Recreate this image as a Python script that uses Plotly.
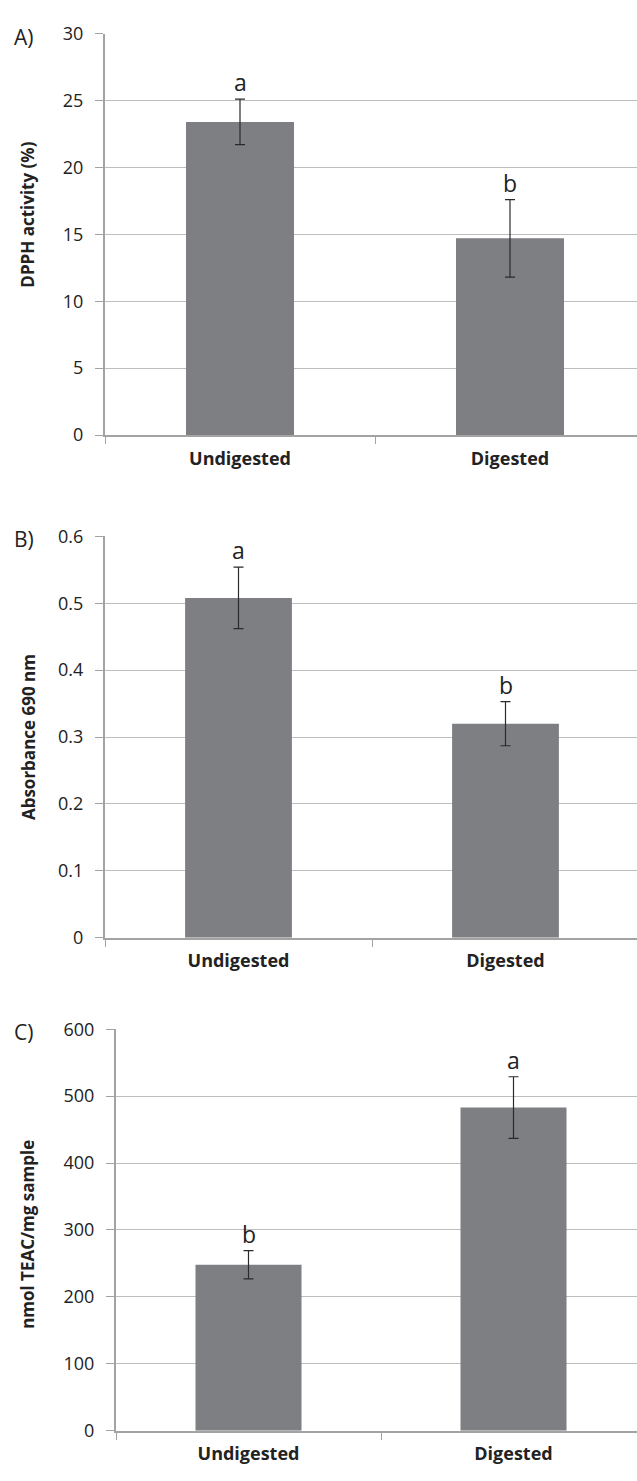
import plotly.graph_objects as go

# Samples on the x axis
categories = ["Undigested", "Digested"]

# A) DPPH radical scavenging
dpph_mean = [23.4, 14.7]
dpph_sd = [1.7, 2.9]
dpph_letters = ["a", "b"]

# B) Reducing power
abs_mean = [0.508, 0.320]
abs_sd = [0.046, 0.033]
abs_letters = ["a", "b"]

# C) ABTS / TEAC
teac_mean = [248, 483]
teac_sd = [21, 46]
teac_letters = ["b", "a"]

panel_tags = ["A)", "B)", "C)"]
y_titles = ["DPPH activity (%)", "Absorbance 690 nm", "nmol TEAC/mg sample"]
y_ranges = [[0, 30], [0, 0.6], [0, 600]]
y_dticks = [5, 0.1, 100]

W, H = 637, 1481
BAR = "#7e7f83"
GRID = "#bdbdbd"
AXIS = "#a3a3a3"
TXT = "#222222"
FONT = "Open Sans"

# plot areas in pixels: (left, top, bottom, category width, title centre)
areas = [(105, 21, 429, 270, 205), (105, 532, 940, 267, 736), (116, 1033, 1441, 265, 1242)]

panels = [
    (dpph_mean, dpph_sd, dpph_letters),
    (abs_mean, abs_sd, abs_letters),
    (teac_mean, teac_sd, teac_letters),
]

fig = go.Figure()
annotations = []

for i, ((means, sds, letters), (left, top, bottom, cw, tc)) in enumerate(zip(panels, areas)):
    n = "" if i == 0 else str(i + 1)
    xa, ya = "x" + n, "y" + n
    fig.add_trace(go.Bar(
        x=categories, y=means, width=0.4,
        marker=dict(color=BAR, line=dict(width=0)),
        error_y=dict(type="data", array=sds, visible=True,
                     color="#2a2a2a", thickness=1.2, width=5),
        xaxis=xa, yaxis=ya, showlegend=False, hoverinfo="skip",
    ))
    x_hi = -0.5 + (W - left) / cw
    fig.layout["xaxis" + n] = dict(
        domain=[left / W, 1.0], anchor=ya, type="category",
        range=[-0.5, x_hi], showline=True, linecolor=AXIS, linewidth=2,
        ticks="outside", tickson="boundaries", ticklen=7, tickcolor=AXIS,
        tickwidth=1, showgrid=False, zeroline=False,
        tickfont=dict(family=FONT, size=18, color=TXT, weight="bold"),
        ticklabelstandoff=6, fixedrange=True,
    )
    fig.layout["yaxis" + n] = dict(
        domain=[(H - bottom) / H, (H - top) / H], anchor=xa,
        range=y_ranges[i], dtick=y_dticks[i], tick0=0,
        showline=True, linecolor=AXIS, linewidth=2,
        ticks="outside", ticklen=8, tickcolor=AXIS, tickwidth=1,
        showgrid=True, gridcolor=GRID, gridwidth=1.2, zeroline=False,
        tickfont=dict(family=FONT, size=18, color=TXT),
        ticklabelstandoff=8, fixedrange=True,
    )
    # significance letters above the error bars
    for cat, m, s, lab in zip(categories, means, sds, letters):
        annotations.append(dict(
            x=cat, y=m + s, xref=xa, yref=ya, text=lab, showarrow=False,
            yanchor="middle", yshift=17,
            font=dict(family=FONT, size=23, color=TXT),
        ))
    # panel tag
    annotations.append(dict(
        x=24 / W, y=(H - top - 3) / H, xref="paper", yref="paper",
        text=panel_tags[i], showarrow=False, xanchor="center", yanchor="middle",
        font=dict(family=FONT, size=21, color=TXT),
    ))
    # y axis title
    annotations.append(dict(
        x=28 / W, y=(H - tc) / H, xref="paper", yref="paper",
        text=y_titles[i], showarrow=False, textangle=-90,
        xanchor="center", yanchor="middle",
        font=dict(family=FONT, size=17, color=TXT, weight="bold"),
    ))

fig.update_layout(
    width=W, height=H, margin=dict(l=0, r=0, t=0, b=0),
    paper_bgcolor="white", plot_bgcolor="white",
    annotations=annotations, bargap=0.6,
)

fig.write_html("out.html", config={"displayModeBar": False})
